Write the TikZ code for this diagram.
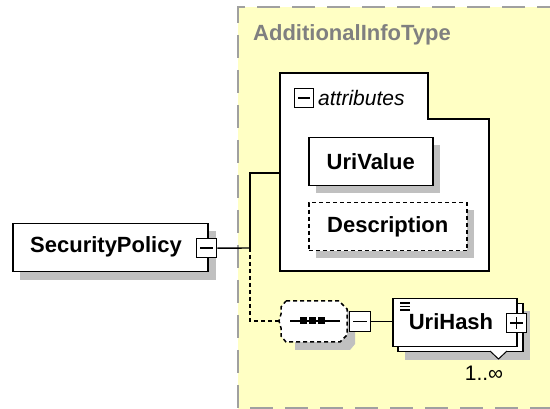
\documentclass[tikz,border=0pt]{standalone}
\usepackage{fontspec}
\setmainfont{Liberation Sans}
\usetikzlibrary{calc}
\definecolor{bgyellow}{RGB}{255,255,196}
\definecolor{framegray}{RGB}{160,160,160}
\definecolor{titlegray}{RGB}{128,128,128}
\definecolor{shadowgray}{RGB}{192,192,192}
\tikzset{
  elem/.style={draw=black, line width=1.5pt, fill=white, anchor=north west, inner sep=0pt},
  dashedelem/.style={elem, dash pattern=on 4pt off 3pt},
  pmbox/.style={draw=black, line width=1.4pt, fill=white, anchor=north west, inner sep=0pt, minimum width=20pt, minimum height=19pt},
  conn/.style={draw=black, line width=1.4pt},
  dconn/.style={conn, dash pattern=on 4pt off 3pt},
  lbl/.style={font=\fontsize{22}{24}\selectfont\bfseries, inner sep=0pt},
}
\begin{document}
\begin{tikzpicture}[x=1pt,y=-1pt]
\useasboundingbox (0,0) rectangle (550,409);
\begin{scope}
\clip (0,0) rectangle (550,409);
% container
\fill[bgyellow] (238,7) rectangle (560,409);
\draw[framegray, line width=2pt, dash pattern=on 23pt off 12pt] (560,7) -- (238,7) -- (238,408) -- (560,408);
\node[lbl, text=titlegray, anchor=west] (title) at (253,35) {AdditionalInfoType};

% SecurityPolicy
\fill[shadowgray] (20,231) rectangle (216,280);
\node[elem, minimum width=195pt, minimum height=48pt] (sp) at (12,223) {};
\node[lbl] (sptext) at (106,247) {SecurityPolicy};
\node[pmbox] (spminus) at (196,238) {};
\draw[line width=1.4pt] ($(spminus.west)+(4,0)$) -- ($(spminus.east)+(-4,0)$);

% attributes
\draw[elem] (280,73) -- (428,73) -- (428,119) -- (489,119) -- (489,271) -- (280,271) -- cycle;
\coordinate (attr) at (280,173);
\node[pmbox, minimum width=19pt] (attrminus) at (294,88) {};
\draw[line width=1.4pt] ($(attrminus.west)+(4,0)$) -- ($(attrminus.east)+(-4,0)$);
\node[font=\fontsize{21}{24}\selectfont\itshape, anchor=west, inner sep=0pt] (attrtext) at (318,98) {attributes};

% UriValue
\fill[shadowgray] (316,145) rectangle (440,193);
\node[elem, minimum width=124pt, minimum height=48pt] (urivalue) at (308,137) {};
\node[lbl] at (urivalue.center) {UriValue};

% Description
\fill[shadowgray] (316,210) rectangle (474,258);
\node[dashedelem, minimum width=158pt, minimum height=48pt] (desc) at (308,202) {};
\node[lbl] at (desc.center) {Description};

% sequence compositor
\fill[shadowgray] (295,309) -- (347,309) -- (355,317) -- (355,344) -- (350,350) -- (295,350) -- cycle;
\draw[line width=1.5pt, fill=white, dash pattern=on 4pt off 3pt] (286,301) -- (339,301) -- (347,309) -- (347,335) -- (340,342) -- (286,342) -- (281,336) -- (281,328) -- (279,321) -- (281,314) -- (281,307) -- cycle;
\coordinate (seq) at (280,321);
\draw[line width=1.4pt] (290,321) -- (340,321);
\foreach \dx in {303,312,321}{\fill (\dx-3.5,317.5) rectangle (\dx+3.5,324.5);}
\node[pmbox, minimum width=21pt, minimum height=20pt] (seqminus) at (349,311) {};
\draw[line width=1.4pt] ($(seqminus.west)+(4,0)$) -- ($(seqminus.east)+(-4,0)$);

% UriHash
\fill[shadowgray] (405,311) rectangle (530,360);
\node[elem, minimum width=125pt, minimum height=48pt] (urihashback) at (397,303) {};
\node[elem, minimum width=124pt, minimum height=48pt] (urihash) at (392,298) {};
\draw[line width=1.3pt] (400,303) -- (410,303) (400,306.5) -- (410,306.5) (400,310) -- (410,310);
\node[lbl] at (451,322) {UriHash};
\node[pmbox, minimum width=20pt, minimum height=19pt] (uhplus) at (506,313) {};
\draw[line width=1.4pt] ($(uhplus.west)+(4,0)$) -- ($(uhplus.east)+(-4,0)$) ($(uhplus.north)+(0,4)$) -- ($(uhplus.south)+(0,-4)$);
\draw[line width=1pt, fill=white] (490,351) -- (498.5,359) -- (507,351);
\node[font=\fontsize{21}{24}\selectfont, inner sep=0pt] (mult) at (484,373) {1..∞};

% connectors
\coordinate (junc) at (250,248);
\draw[conn] (spminus.east) -- (junc);
\draw[conn] (junc) |- (attr);
\draw[dconn] (junc) |- (seq);
\draw[conn] (seqminus.east) -- (urihash.west |- seqminus.east);
\end{scope}
\end{tikzpicture}
\end{document}
